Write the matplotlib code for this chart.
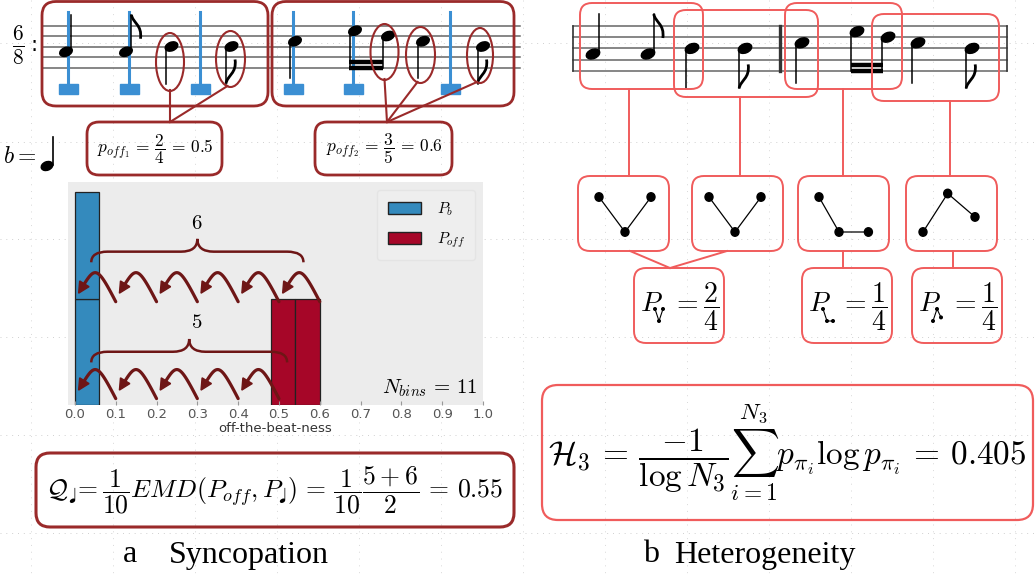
import numpy as np
import matplotlib.pyplot as plt
from matplotlib.patches import FancyBboxPatch, Ellipse, Rectangle, Polygon, PathPatch
from matplotlib.path import Path

plt.rcParams['mathtext.fontset'] = 'cm'

# --- data -------------------------------------------------------------
# melody (staff step, 0 = bottom line) and rhythm, same for both panels
pitches = [3, 3, 4, 4, 5, 7, 6, 5, 4]
rhythm = ['q', 'e', 'q', 'e', 'q', 's', 's', 'q', 'e']
stem_dirs = ['up', 'up', 'down', 'down', 'down', 'down', 'down', 'down', 'down']

# histogram of off-the-beat-ness
beat_lefts = [0.0, 0.0]
beat_heights = [0.5, 0.5]
off_lefts = [0.48, 0.54]
off_heights = [0.5, 0.5]
bin_width = 0.06
n_bins = 11
hops_top = [0.6, 0.5, 0.4, 0.3, 0.2, 0.1, 0.0]
hops_bottom = [0.5, 0.4, 0.3, 0.2, 0.1, 0.0]
emd_top = 6
emd_bottom = 5
p_off_num = [2, 3]
p_off_den = [4, 5]
p_off_val = [0.5, 0.6]
syncopation = 0.55

# contour patterns (relative x, relative height) and their probabilities
patterns = [
    [(0, 1), (1, 0), (2, 1)],
    [(0, 1), (1, 0), (2, 1)],
    [(0, 1), (0.77, 0), (1.9, 0)],
    [(0, 0), (0.95, 1.1), (2, 0.43)],
]
pattern_prob_num = [2, 1, 1]
pattern_prob_den = 4
heterogeneity = 0.405

DARK = '#9a2a2a'
ARROW = '#6e1616'
PINK = '#f05c5c'
BEAT = '#3b8fd3'

fig = plt.figure(figsize=(10.35, 5.76), dpi=100)

# faint presentation grid behind everything
bg = fig.add_axes([0, 0, 1, 1], zorder=0)
bg.set_xlim(0, 1035)
bg.set_ylim(576, 0)
bg.axis('off')
for gy in [43, 142, 239, 337, 435, 533]:
    bg.plot([0, 1035], [gy, gy], color='#d0d0d0', lw=0.7, ls=(0, (1, 5)))
for gx in np.arange(605 - 82 * 7, 1035, 82):
    bg.plot([gx, gx], [0, 576], color='#d8d8d8', lw=0.7, ls=(0, (1, 6)))

# ---------- histogram ----------
hx = fig.add_axes([68 / 1035, 1 - 405 / 576, 415 / 1035, 223 / 576], zorder=1)
hx.set_facecolor('#ececec')
bottom = 0
for l, h in zip(beat_lefts, beat_heights):
    hx.bar(l, h, bin_width, bottom=bottom, align='edge', color='#348ABD', edgecolor='#222222', lw=0.9)
    bottom += h
hx.bar(off_lefts, off_heights, bin_width, align='edge', color='#A60628', edgecolor='#222222', lw=0.9)
hx.set_xlim(-0.017, 1.0)
hx.set_ylim(0, 1.047)
hx.set_xticks(np.arange(0, 1.01, 0.1))
hx.set_xticklabels([f'{v:.1f}' for v in np.arange(0, 1.01, 0.1)])
hx.set_yticks([])
hx.tick_params(axis='x', direction='in', length=3, color='#999999', labelsize=9.5, labelcolor='#555555', pad=2)
for s in hx.spines.values():
    s.set_visible(False)
hx.set_xlabel('off-the-beat-ness', fontsize=9.5, color='#333333', labelpad=1)
leg = hx.legend([Rectangle((0, 0), 1, 1, fc='#348ABD', ec='#222222'), Rectangle((0, 0), 1, 1, fc='#A60628', ec='#222222')],
                ['$P_b$', '$P_{off}$'], loc='upper right', fontsize=11, handlelength=2.2, handleheight=0.85,
                frameon=True, borderpad=0.7, labelspacing=0.8, handletextpad=1.0)
leg.get_frame().set_facecolor('#efefef')
leg.get_frame().set_edgecolor('#e2e2e2')

PX, PY = 408.0, 213.0  # pixels per data unit in the histogram


def hop_arrows(xs, base):
    t = np.linspace(0, 1, 50)[:, None]
    for xa, xb in zip(xs[:-1], xs[1:]):
        xe = xb + 0.009
        p0 = np.array([xa, base - 0.015])
        c1 = np.array([xa - 0.05, base + 0.17])
        c2 = np.array([xe + 0.04, base + 0.15])
        p3 = np.array([xe, base + 0.025])
        pts = (1 - t) ** 3 * p0 + 3 * (1 - t) ** 2 * t * c1 + 3 * (1 - t) * t ** 2 * c2 + t ** 3 * p3
        hx.plot(pts[:-4, 0], pts[:-4, 1], color=ARROW, lw=2.3, solid_capstyle='round', zorder=4)
        d = (p3 - c2) * [PX, PY]
        d /= np.hypot(*d)
        n = np.array([-d[1], d[0]])
        tip = p3 * [PX, PY]
        back = tip - d * 11
        tri = np.array([tip, back + n * 5.5, back - n * 5.5]) / [PX, PY]
        hx.add_patch(Polygon(tri, closed=True, color=ARROW, zorder=4))


def brace(x0, x1, y, h_end, h_tip, d=0.04):
    xm = (x0 + x1) / 2
    verts = [(x0, y - h_end), (x0, y), (x0 + d, y), (xm - d, y), (xm, y), (xm, y + h_tip),
             (xm, y), (xm + d, y), (x1 - d, y), (x1, y), (x1, y - h_end)]
    codes = [Path.MOVETO, Path.CURVE3, Path.CURVE3, Path.LINETO, Path.CURVE3, Path.CURVE3,
             Path.CURVE3, Path.CURVE3, Path.LINETO, Path.CURVE3, Path.CURVE3]
    hx.add_patch(PathPatch(Path(verts, codes), fill=False, ec=ARROW, lw=1.8, zorder=4))


hop_arrows(hops_top, 0.5)
hop_arrows(hops_bottom, 0.045)
brace(0.04, 0.56, 0.72, 0.05, 0.06)
brace(0.04, 0.52, 0.25, 0.05, 0.06)
hx.text(0.298, 0.855, f'${emd_top}$', fontsize=15, ha='center', va='center')
hx.text(0.298, 0.39, f'${emd_bottom}$', fontsize=15, ha='center', va='center')
hx.text(0.988, 0.03, f'$N_{{bins}}\\,=\\,{n_bins}$', fontsize=15, ha='right', va='bottom')

# ---------- overlay in pixel coordinates ----------
ax = fig.add_axes([0, 0, 1, 1], zorder=2)
ax.set_xlim(0, 1035)
ax.set_ylim(576, 0)
ax.axis('off')


def rbox(x0, y0, x1, y1, color, lw, r=12):
    ax.add_patch(FancyBboxPatch((x0, y0), x1 - x0, y1 - y0, boxstyle=f'round,pad=0,rounding_size={r}',
                                fc='none', ec=color, lw=lw, zorder=6))


def staff(x0, x1, top, gap):
    for k in range(5):
        ax.plot([x0, x1], [top + k * gap] * 2, color='#666666', lw=1.1, zorder=2)


def draw_notes(xs, bottom_line, gap, stem_len):
    beam = []
    for x, s, r, d in zip(xs, pitches, rhythm, stem_dirs):
        y = bottom_line - s * gap / 2
        ax.add_patch(Ellipse((x, y), gap * 1.25, gap * 0.82, angle=-22, color='k', zorder=5))
        if d == 'up':
            sx = x + gap * 0.52
            end = y - stem_len
            ax.plot([sx, sx], [y - 1, end], color='k', lw=1.1, zorder=5)
            if r == 'e':
                p = Path([(sx, end), (sx + 1, end + 8), (sx + 11, end + 10), (sx + 9, end + 24)],
                         [Path.MOVETO, Path.CURVE4, Path.CURVE4, Path.CURVE4])
                ax.add_patch(PathPatch(p, fill=False, ec='k', lw=2, zorder=5))
        else:
            sx = x - gap * 0.52
            end = bottom_line + 0.5 if r == 's' else y + stem_len
            ax.plot([sx, sx], [y + 1, end], color='k', lw=1.1, zorder=5)
            if r == 'e':
                p = Path([(sx, end), (sx + 1, end - 8), (sx + 11, end - 10), (sx + 9, end - 24)],
                         [Path.MOVETO, Path.CURVE4, Path.CURVE4, Path.CURVE4])
                ax.add_patch(PathPatch(p, fill=False, ec='k', lw=2, zorder=5))
            if r == 's':
                beam.append((sx, end))
    if beam:
        (xa, ya), (xb, yb) = beam[0], beam[1]
        for off in (0, -6):
            ax.plot([xa - 0.6, xb + 0.6], [ya + off, yb + off], color='k', lw=3.2, solid_capstyle='butt', zorder=5)


# left panel: score with beat markers
ax.text(18, 45, r'$\frac{6}{8}$', fontsize=22, ha='center', va='center')
ax.text(34, 45, ':', fontsize=15, ha='center', va='center')
staff(42, 520, 25.5, 10.5)
left_x = [66, 126, 171.5, 231.5, 295, 355, 388, 423, 483]
draw_notes(left_x, 67.5, 10.5, 37)
for bx in [68, 129, 200, 293, 353, 450]:
    ax.plot([bx, bx], [12, 86], color=BEAT, lw=2.2, zorder=4)
    ax.add_patch(Rectangle((bx - 9.5, 84), 19, 10, color=BEAT, zorder=4))
rbox(42, 1.5, 268, 106, DARK, 2.0, r=14)
rbox(272, 1.5, 514, 106, DARK, 2.0, r=14)
ell = [(170, 62, 28, 58), (230.5, 59, 29, 56), (384.5, 52, 28, 56), (420.5, 55, 29, 56), (480, 55.5, 26, 55)]
for cx, cy, w, h in ell:
    ax.add_patch(Ellipse((cx, cy), w, h, fc='none', ec=DARK, lw=1.5, zorder=6))
for (cx, cy, w, h), (tx, ty) in zip(ell, [(170, 122), (170, 122), (387, 122), (387, 122), (387, 122)]):
    sx = cx if abs(cx - tx) < 5 else cx - 3
    ax.plot([sx, tx], [cy + h / 2 - 1, ty], color=DARK, lw=1.5, zorder=6)
rbox(87, 122, 222, 175, DARK, 2.0, r=12)
rbox(315, 122, 452, 175, DARK, 2.0, r=12)
for i, cx in enumerate([155, 384]):
    ax.text(cx, 149, rf'$p_{{off_{i + 1}}}\,=\,\dfrac{{{p_off_num[i]}}}{{{p_off_den[i]}}}\,=\,{p_off_val[i]}$',
            fontsize=12.5, ha='center', va='center', zorder=7)
ax.text(20, 156, r'$b =$', fontsize=17, ha='center', va='center')
ax.add_patch(Ellipse((47, 166), 12, 8.5, angle=-22, color='k'))
ax.plot([52.5, 52.5], [165, 137], color='k', lw=1.2)

rbox(36, 453, 514, 527, DARK, 2.2, r=14)
ax.text(275, 490, r'$\mathcal{Q}_{♩}\!= \dfrac{1}{10}EMD(P_{off}, P_{♩})\,=\,\dfrac{1}{10}\dfrac{5+6}{2}\,=\,'
        + f'{syncopation}$', fontsize=18.5, ha='center', va='center')
ax.text(130, 555, 'a', fontsize=23, family='Liberation Serif', ha='center', va='center')
ax.text(169, 555, 'Syncopation', fontsize=23, family='Liberation Serif', ha='left', va='center')

# right panel: 3-note contour windows
staff(573, 1007, 26, 11.2)
for bx, lw in [(573, 1.2), (780, 2.4), (1007, 1.2)]:
    ax.plot([bx, bx], [26, 70.8], color='#333333', lw=lw, zorder=2)
right_x = [593, 648, 692, 745, 802, 857, 888, 918, 972]
draw_notes(right_x, 70.8, 11.2, 40)
win = [(580, 3, 703, 89), (674, 10, 818, 97), (785, 3, 902, 89), (872, 14, 999, 101)]
for (x0, y0, x1, y1), lx in zip(win, [629, 740, 843, 950]):
    rbox(x0, y0, x1, y1, PINK, 1.4, r=12)
    ax.plot([lx, lx], [y1, 176], color=PINK, lw=1.4, zorder=6)

pbox = [578, 692, 798, 906]
for bx0, shape, dx0 in zip(pbox, patterns, [21, 17, 21, 17]):
    rbox(bx0, 176, bx0 + 91, 251, PINK, 1.4, r=12)
    pts = [(bx0 + dx0 + a * 26, 232 - b * 35) for a, b in shape]
    ax.plot([p[0] for p in pts], [p[1] for p in pts], color='k', lw=0.9, zorder=7)
    for px, py in pts:
        ax.add_patch(Ellipse((px, py), 8, 8.5, color='k', zorder=7))

ax.plot([630, 670], [251, 268], color=PINK, lw=1.4)
ax.plot([727, 670], [251, 268], color=PINK, lw=1.4)
ax.plot([843, 843], [251, 268], color=PINK, lw=1.4)
ax.plot([953, 953], [251, 268], color=PINK, lw=1.4)

rboxes = [(634, 724), (802, 892), (912, 1002)]
sub_shapes = [[(0, 1), (1, 0), (2, 1)], [(0, 1), (1, 0), (2.5, 0)], [(0, 0), (1, 1), (2, 0.3)]]
for (x0, x1), num, sh in zip(rboxes, pattern_prob_num, sub_shapes):
    rbox(x0, 268, x1, 343, PINK, 1.4, r=12)
    ax.text(x0 + 17, 303, '$P$', fontsize=20, ha='center', va='center')
    pts = [(x0 + 21 + a * 4, 321 - b * 12) for a, b in sh]
    ax.plot([p[0] for p in pts], [p[1] for p in pts], color='k', lw=0.8)
    for px, py in pts:
        ax.add_patch(Ellipse((px, py), 2.6, 2.6, color='k'))
    ax.text(x0 + 38, 307, rf'$=\dfrac{{{num}}}{{{pattern_prob_den}}}$', fontsize=20, ha='left', va='center')

rbox(542, 385, 1033, 520, PINK, 1.6, r=16)
ax.text(787, 452, r'$\mathcal{H}_3\,=\,\dfrac{-1}{\log N_3}\sum_{i=1}^{N_3} p_{\pi_i}\log p_{\pi_i}\,=\,'
        + f'{heterogeneity}$', fontsize=24, ha='center', va='center')
ax.text(651, 555, 'b', fontsize=23, family='Liberation Serif', ha='center', va='center')
ax.text(674, 555, 'Heterogeneity', fontsize=23, family='Liberation Serif', ha='left', va='center')

fig.savefig('out.png', dpi=100)
